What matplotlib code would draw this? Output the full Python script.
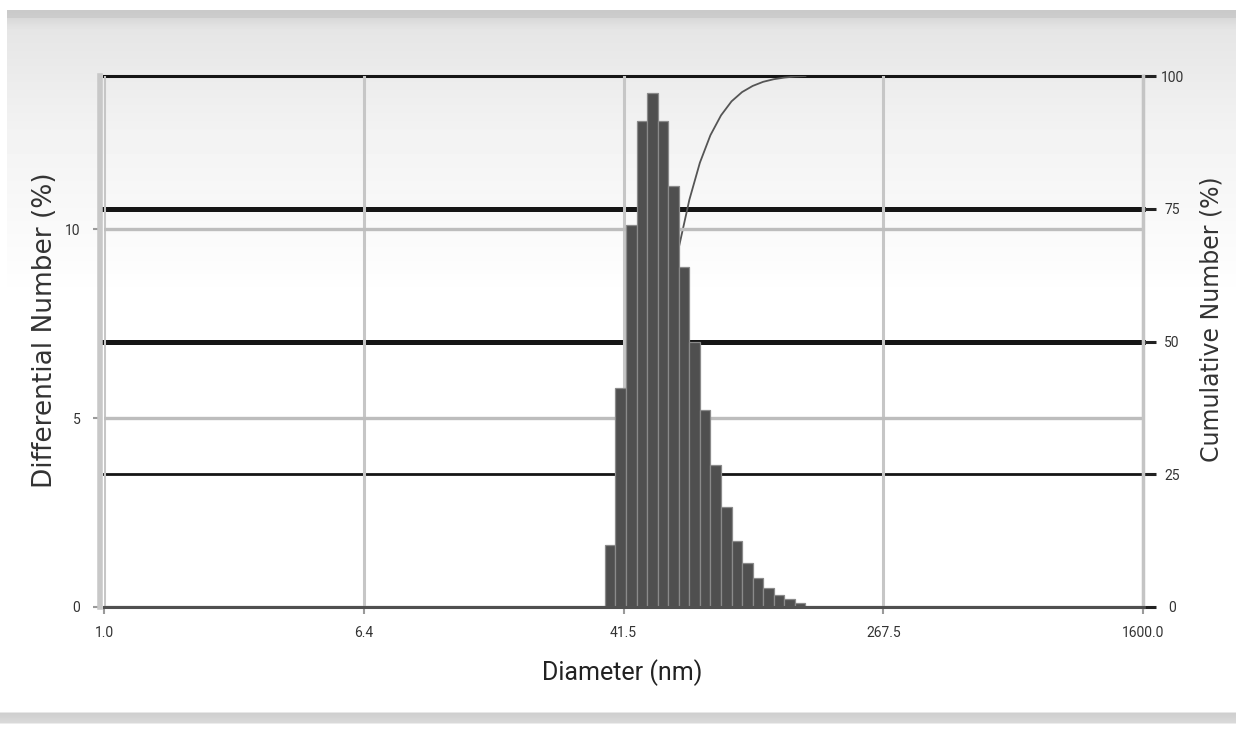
import numpy as np
import matplotlib.pyplot as plt

# Données (granulométrie en nombre)
diametres = [36.4, 39.2, 42.3, 45.6, 49.1, 52.9, 57.1, 61.5, 66.3, 71.4,
             77.0, 83.0, 89.4, 96.4, 103.9, 111.9, 120.7, 130.0, 140.2]
nombre_diff = [1.64, 5.8, 10.1, 12.85, 13.6, 12.85, 11.15, 9.0, 7.0, 5.2,
               3.75, 2.65, 1.75, 1.16, 0.78, 0.49, 0.31, 0.2, 0.1]
etiquettes_x = ['1.0', '6.4', '41.5', '267.5', '1600.0']
ticks_gauche = [0, 5, 10]
ticks_droite = [0, 25, 50, 75, 100]

plt.rcParams['font.family'] = ['Roboto', 'DejaVu Sans']

W, H = 1236, 730
fig = plt.figure(figsize=(W / 100, H / 100), dpi=100)

# fond : bandeau gris dégradé en haut, bande grise en bas
yy = np.arange(H)
fond = np.interp(yy, [0, 9.9, 10, 17, 18, 30, 130, 300, 711, 713, 722, 724, 730],
                 [1, 1, 0.79, 0.80, 0.85, 0.90, 0.95, 1.0, 1.0, 0.81, 0.85, 1, 1])
fond = np.tile(fond[:, None], (1, W))
fond[:, :7] = np.where(yy[:, None] < 300, 1.0, fond[:, :7])
bg = fig.add_axes([0, 0, 1, 1], zorder=-10)
bg.imshow(fond, cmap='gray', vmin=0, vmax=1, aspect='auto', extent=[0, 1, 0, 1])
bg.axis('off')

ax = fig.add_axes([104 / W, 123 / H, (1143 - 104) / W, (607 - 76) / H])
ax2 = ax.twinx()
ax.set_zorder(ax2.get_zorder() + 1)
ax.patch.set_visible(False)
ax2.patch.set_visible(False)

# barres (bords géométriques entre centres)
c = np.array(diametres)
milieux = np.sqrt(c[:-1] * c[1:])
bords = np.concatenate([[c[0] ** 2 / milieux[0]], milieux, [c[-1] ** 2 / milieux[-1]]])
ax.bar(bords[:-1], nombre_diff, width=np.diff(bords), align='edge', color='#4f4f4f',
       edgecolor='#8a8a8a', linewidth=0.9, zorder=3)

ax.set_xscale('log')
ax.set_xlim(1, 1600)
ax.set_ylim(0, 14.05)
pos_x = np.logspace(0, np.log10(1600), 5)
ax.set_xticks(pos_x)
ax.set_xticklabels(etiquettes_x)
ax.minorticks_off()
ax.set_yticks(ticks_gauche)
ax.grid(axis='x', color='#c6c6c6', linewidth=2.2, zorder=1)
ax.grid(axis='y', color='#bdbdbd', linewidth=2.4, zorder=1)
ax.set_axisbelow(True)
ax.tick_params(axis='x', length=5, width=1.5, color='#9a9a9a', pad=9,
               labelsize=10, labelcolor='#333333')
ax.tick_params(axis='y', length=5, width=1.5, color='#9a9a9a', pad=9,
               labelsize=10, labelcolor='#333333')
ax.spines['top'].set_visible(False)
ax.spines['bottom'].set_color('#505050')
ax.spines['bottom'].set_linewidth(2.2)
ax.spines['bottom'].set_zorder(4)
ax.spines['left'].set_color('#c8c8c8')
ax.spines['left'].set_linewidth(4)
ax.spines['left'].set_position(('outward', 3))
ax.spines['right'].set_color('#c4c4c4')
ax.spines['right'].set_linewidth(2.5)

# cumul (derrière les barres)
cumul = np.cumsum(nombre_diff)
cumul = cumul * 100 / cumul[-1]
ax2.plot(np.concatenate([[bords[0]], bords[1:]]), np.concatenate([[0], cumul]),
         color='#555555', linewidth=1.3, zorder=2)
ax2.set_ylim(0, 100)
for v, lw in zip(ticks_droite[1:], [2.0, 3.6, 3.6, 2.2]):
    ax2.axhline(v, color='#151515', linewidth=lw, clip_on=False, zorder=1)
ax2.set_yticks(ticks_droite)
ax2.tick_params(axis='y', length=9, width=2.2, color='#222222', pad=12,
                labelsize=10, labelcolor='#333333')
for lab in ax2.get_yticklabels():
    lab.set_horizontalalignment('center')
for s in ax2.spines.values():
    s.set_visible(False)

fig.text(622 / W, 1 - 673 / H, 'Diameter (nm)', ha='center', va='center',
         fontsize=18, color='#222222')
fig.text(45 / W, 1 - 330 / H, 'Differential Number (%)', ha='center', va='center',
         rotation=90, fontsize=19, color='#333333', family='DejaVu Sans')
fig.text(1211 / W, 1 - 319 / H, 'Cumulative Number (%)', ha='center', va='center',
         rotation=90, fontsize=17, color='#333333', family='DejaVu Sans')

fig.savefig('out.png', dpi=100)
